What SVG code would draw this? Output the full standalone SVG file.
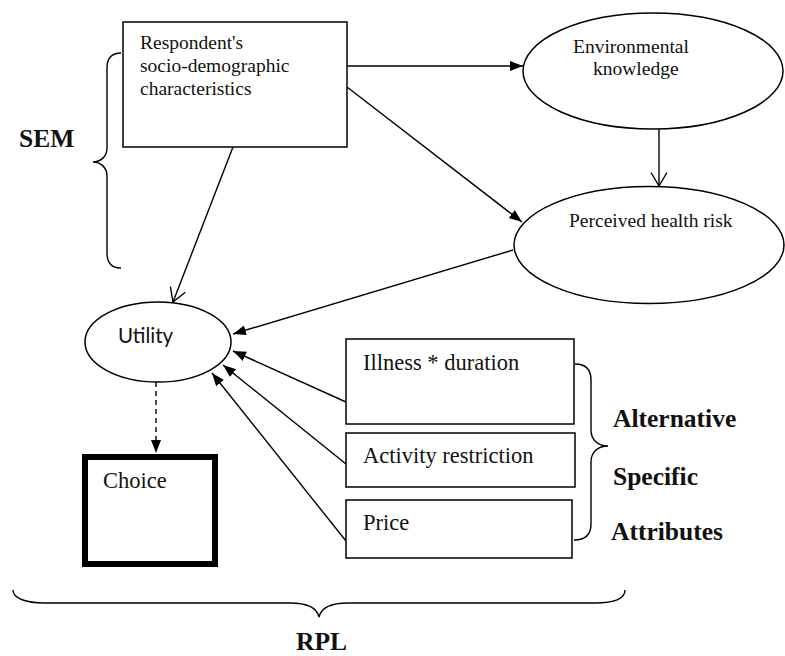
<svg xmlns="http://www.w3.org/2000/svg" width="785" height="656" viewBox="0 0 785 656">
<defs>
<style>
.box{fill:#fff;stroke:#000;stroke-width:1.5}
.ell{fill:#fff;stroke:#000;stroke-width:1.5}
.t{font-family:"Liberation Serif","Times New Roman",serif;fill:#111}
.b{font-family:"Liberation Serif","Times New Roman",serif;font-weight:bold;fill:#111;font-size:25.5px}
.ln{fill:none;stroke:#000;stroke-width:1.4}
.br{fill:none;stroke:#000;stroke-width:1.4}
</style>
<marker id="fa" markerUnits="userSpaceOnUse" markerWidth="14" markerHeight="11" refX="13" refY="5" orient="auto">
<path d="M0,0 L13,5 L0,10 z" fill="#000"/>
</marker>
<marker id="oa" markerUnits="userSpaceOnUse" markerWidth="16" markerHeight="18" refX="14" refY="8.5" orient="auto">
<path d="M0.5,0.5 L14,8.5 L0.5,16.5" fill="none" stroke="#000" stroke-width="1.4"/>
</marker>
</defs>
<rect width="785" height="656" fill="#fff"/>

<g id="connectors">
<path class="ln" d="M347,66 L523,66" marker-end="url(#fa)"/>
<path class="ln" d="M347,87 L522,222" marker-end="url(#fa)"/>
<path class="ln" d="M659,129 L659,186" marker-end="url(#oa)"/>
<path class="ln" d="M233,147 L173,302" marker-end="url(#oa)"/>
<path class="ln" d="M513,250 L233,334" marker-end="url(#fa)"/>
<path class="ln" d="M346,402 L233,351" marker-end="url(#fa)"/>
<path class="ln" d="M346,464 L223,365" marker-end="url(#fa)"/>
<path class="ln" d="M346,541 L212,373" marker-end="url(#fa)"/>
<path class="ln" d="M156,382 L156,453" stroke-dasharray="5,4" marker-end="url(#fa)"/>
</g>

<g id="respondent">
<rect class="box" x="123" y="22" width="224" height="125"/>
<text class="t" font-size="19.5" x="140" y="49">Respondent's</text>
<text class="t" font-size="19.5" x="140" y="72">socio-demographic</text>
<text class="t" font-size="19.5" x="140" y="95">characteristics</text>
</g>

<g id="env">
<ellipse class="ell" cx="653" cy="71" rx="130" ry="58"/>
<text class="t" font-size="19.5" x="573" y="53">Environmental</text>
<text class="t" font-size="19.5" x="593" y="75">knowledge</text>
</g>

<g id="perceived">
<ellipse class="ell" cx="649" cy="245" rx="135" ry="58.5"/>
<text class="t" font-size="19.5" x="569" y="227">Perceived health risk</text>
</g>

<g id="utility">
<ellipse class="ell" cx="158" cy="342" rx="73" ry="40"/>
<text font-family="Lato,'Open Sans',sans-serif" font-size="20.5" fill="#111" x="118" y="343">Utility</text>
</g>

<g id="choice">
<rect x="85" y="457" width="130" height="107" fill="#fff" stroke="#000" stroke-width="6"/>
<text class="t" font-size="22.5" x="103" y="488">Choice</text>
</g>

<g id="illness">
<rect class="box" x="346" y="339" width="228" height="85"/>
<text class="t" font-size="22.5" x="363" y="370">Illness * duration</text>
</g>

<g id="activity">
<rect class="box" x="346" y="433" width="229" height="54"/>
<text class="t" font-size="22.5" x="363" y="463">Activity restriction</text>
</g>

<g id="price">
<rect class="box" x="346" y="500" width="226" height="58"/>
<text class="t" font-size="22.5" x="363" y="530">Price</text>
</g>

<g id="sem">
<path class="br" d="M121,53 C112,53 107,58 107,68 L107,148 C107,157 100,162 93,162 C100,162 107,167 107,176 L107,253 C107,263 112,268 121,268"/>
<text class="b" x="19" y="147">SEM</text>
</g>

<g id="asa">
<path class="br" d="M575,364 C586,364 591,370 591,380 L591,430 C591,440 598,446 608,446 C598,446 591,452 591,462 L591,524 C591,534 586,540 574,540"/>
<text class="b" x="613" y="427">Alternative</text>
<text class="b" x="613" y="485">Specific</text>
<text class="b" x="611" y="540">Attributes</text>
</g>

<g id="rpl">
<path class="br" d="M13,590 C13,598 25,603 45,603 L290,603 C308,603 317,608 319,617 C321,608 330,603 348,603 L595,603 C615,603 625,598 625,590"/>
<text class="b" x="296" y="650">RPL</text>
</g>
</svg>
